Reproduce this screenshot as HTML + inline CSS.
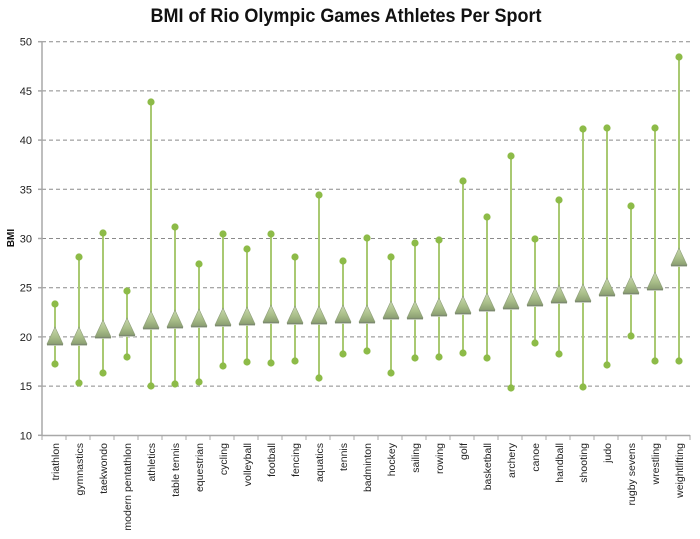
<!DOCTYPE html>
<html><head><meta charset="utf-8"><style>
html,body{margin:0;padding:0;background:#fff;}
svg{display:block;font-family:"Liberation Sans",sans-serif;}
</style></head><body>
<svg width="700" height="539" viewBox="0 0 700 539" xmlns="http://www.w3.org/2000/svg">
<defs>
<linearGradient id="tg" x1="0" y1="0" x2="0" y2="1">
<stop offset="0" stop-color="#c9d9ad"/>
<stop offset="0.6" stop-color="#a8bd88"/>
<stop offset="1" stop-color="#8c9f72"/>
</linearGradient>
</defs>
<text x="346" y="22" text-anchor="middle" font-size="19" font-weight="bold" fill="#111" textLength="391" lengthAdjust="spacingAndGlyphs">BMI of Rio Olympic Games Athletes Per Sport</text>
<g stroke="#8a8a8a" stroke-width="1" stroke-dasharray="4,3">
<line x1="42" x2="690" y1="41.7" y2="41.7"/>
<line x1="42" x2="690" y1="90.9" y2="90.9"/>
<line x1="42" x2="690" y1="140.1" y2="140.1"/>
<line x1="42" x2="690" y1="189.3" y2="189.3"/>
<line x1="42" x2="690" y1="238.5" y2="238.5"/>
<line x1="42" x2="690" y1="287.7" y2="287.7"/>
<line x1="42" x2="690" y1="336.9" y2="336.9"/>
<line x1="42" x2="690" y1="386.1" y2="386.1"/>
</g>
<g stroke="#a8a8a8" stroke-width="1.5">
<line x1="42" x2="42" y1="41" y2="436"/>
<line x1="42" x2="690" y1="435.5" y2="435.5"/>
<line x1="38" x2="42" y1="41.7" y2="41.7"/>
<line x1="38" x2="42" y1="90.9" y2="90.9"/>
<line x1="38" x2="42" y1="140.1" y2="140.1"/>
<line x1="38" x2="42" y1="189.3" y2="189.3"/>
<line x1="38" x2="42" y1="238.5" y2="238.5"/>
<line x1="38" x2="42" y1="287.7" y2="287.7"/>
<line x1="38" x2="42" y1="336.9" y2="336.9"/>
<line x1="38" x2="42" y1="386.1" y2="386.1"/>
<line x1="38" x2="42" y1="435.3" y2="435.3"/>
</g>
<g font-size="11" fill="#222" text-anchor="end">
<text x="32" y="45.7">50</text>
<text x="32" y="94.9">45</text>
<text x="32" y="144.1">40</text>
<text x="32" y="193.3">35</text>
<text x="32" y="242.5">30</text>
<text x="32" y="291.7">25</text>
<text x="32" y="340.9">20</text>
<text x="32" y="390.1">15</text>
<text x="32" y="439.3">10</text>
</g>
<text transform="translate(14,238) rotate(-90)" text-anchor="middle" font-size="10" font-weight="bold" fill="#111">BMI</text>
<g id="ticks" stroke="#a8a8a8" stroke-width="1"></g>
<g id="series"></g>
<g id="labels" font-size="10.5" fill="#222" text-anchor="end"></g>
<script>
(function(){
var names=["triathlon","gymnastics","taekwondo","modern pentathlon","athletics","table tennis","equestrian","cycling","volleyball","football","fencing","aquatics","tennis","badminton","hockey","sailing","rowing","golf","basketball","archery","canoe","handball","shooting","judo","rugby sevens","wrestling","weightlifting"];
var d=[[304,364,327],[257,383,327],[233,373,320],[291,357,318],[102,386,311],[227,384,310],[264,382,309],[234,366,308],[249,362,307],[234,363,305],[257,361,306],[195,378,306],[261,354,305],[238,351,305],[257,373,301],[243,358,301],[240,357,298],[181,353,296],[217,358,293],[156,388,291],[239,343,288],[200,354,285],[129,387,284],[128,365,278],[206,336,276],[128,361,272],[57,361,248]];
var ns="http://www.w3.org/2000/svg";
function el(t,a,p){var e=document.createElementNS(ns,t);for(var k in a)e.setAttribute(k,a[k]);p.appendChild(e);return e;}
var tk=document.getElementById("ticks"),sr=document.getElementById("series"),lb=document.getElementById("labels");
for(var i=0;i<=27;i++){var x=42+24*i;el("line",{x1:x,x2:x,y1:435,y2:440},tk);}
for(var i=0;i<27;i++){
var cx=55+24*i,r=d[i];
el("line",{x1:cx,x2:cx,y1:r[0],y2:r[1],stroke:"#a9c972","stroke-width":2},sr);
el("circle",{cx:cx,cy:r[0],r:3.6,fill:"#8dbb48"},sr);
el("circle",{cx:cx,cy:r[1],r:3.6,fill:"#8dbb48"},sr);
var a=r[2],b=a+17;
el("rect",{x:cx-8,y:b-0.5,width:16,height:2.5,fill:"#c8cfc0",opacity:0.8},sr);
el("polygon",{points:cx+","+a+" "+(cx+8)+","+b+" "+(cx-8)+","+b,fill:"url(#tg)",stroke:"#8e9e7a","stroke-width":0.6},sr);
el("line",{x1:cx-8,x2:cx+8,y1:b+0.5,y2:b+0.5,stroke:"#7d8a70","stroke-width":1.2},sr);
var t=el("text",{transform:"translate("+(cx+4)+",443) rotate(-90)"},lb);
t.textContent=names[i];
}
})();
</script>
</svg>
</body></html>
